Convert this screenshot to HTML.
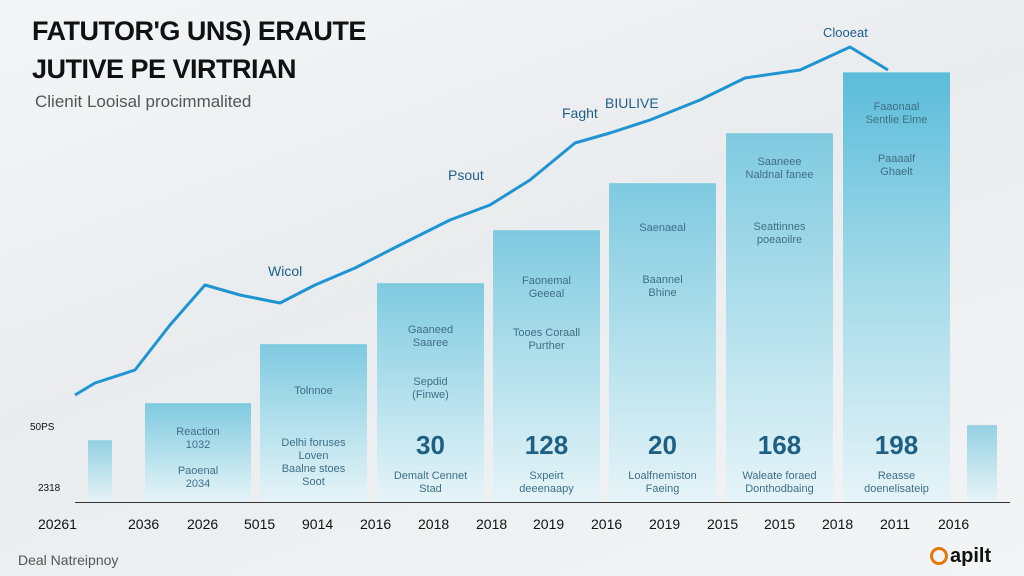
<!DOCTYPE html>
<html><head><meta charset="utf-8"><style>
body{margin:0;width:1024px;height:576px;overflow:hidden;font-family:"Liberation Sans",sans-serif;background:linear-gradient(160deg,#f4f5f6 0%,#e9ecee 45%,#f3f4f5 100%);position:relative}
.t{position:absolute;color:#111}
.bar{position:absolute;bottom:74px;background:linear-gradient(180deg,#7fcae0 0%,#b3e0ec 50%,#e6f4f8 100%);border-top:1px solid #8fd0e3}
.bt{position:absolute;width:100%;text-align:center;color:#3f6f86;font-size:11px;line-height:13px}
.big{position:absolute;width:100%;text-align:center;color:#1e5f84;font-size:26px;font-weight:bold}
.xl{position:absolute;top:516px;font-size:14px;color:#111}
</style></head><body>
<div class="t" style="left:32px;top:16px;font-size:27px;font-weight:bold;letter-spacing:-0.5px">FATUTOR'G UNS) ERAUTE</div>
<div class="t" style="left:32px;top:54px;font-size:27px;font-weight:bold;letter-spacing:-0.5px">JUTIVE PE VIRTRIAN</div>
<div class="t" style="left:35px;top:92px;font-size:17px;color:#555">Clienit Looisal procimmalited</div>

<div class="bar" style="left:88px;width:24px;top:440px;opacity:.8"></div>
<div class="bar" style="left:145px;width:106px;top:403px"><div class="bt" style="top:22px">Reaction<br>1032<br><br>Paoenal<br>2034</div></div>
<div class="bar" style="left:260px;width:107px;top:344px"><div class="bt" style="top:40px">Tolnnoe<br><br><br><br>Delhi foruses<br>Loven<br>Baalne stoes<br>Soot</div></div>
<div class="bar" style="left:377px;width:107px;top:283px"><div class="bt" style="top:40px">Gaaneed<br>Saaree<br><br><br>Sepdid<br>(Finwe)</div><div class="big" style="top:146px">30</div><div class="bt" style="top:186px">Demalt Cennet<br>Stad</div></div>
<div class="bar" style="left:493px;width:107px;top:230px"><div class="bt" style="top:44px">Faonemal<br>Geeeal<br><br><br>Tooes Coraall<br>Purther</div><div class="big" style="top:199px">128</div><div class="bt" style="top:239px">Sxpeirt<br>deeenaapy</div></div>
<div class="bar" style="left:609px;width:107px;top:183px"><div class="bt" style="top:38px">Saenaeal<br><br><br><br>Baannel<br>Bhine</div><div class="big" style="top:246px">20</div><div class="bt" style="top:286px">Loalfnemiston<br>Faeing</div></div>
<div class="bar" style="left:726px;width:107px;top:133px"><div class="bt" style="top:22px">Saaneee<br>Naldnal fanee<br><br><br><br>Seattinnes<br>poeaoilre</div><div class="big" style="top:296px">168</div><div class="bt" style="top:336px">Waleate foraed<br>Donthodbaing</div></div>
<div class="bar" style="left:843px;width:107px;top:72px;background:linear-gradient(180deg,#5bbcda 0%,#a6dbe9 50%,#e6f4f8 100%)"><div class="bt" style="top:28px">Faaonaal<br>Sentlie Elme<br><br><br>Paaaalf<br>Ghaelt</div><div class="big" style="top:357px">198</div><div class="bt" style="top:397px">Reasse<br>doenelisateip</div></div>
<div class="bar" style="left:967px;width:30px;top:425px;opacity:.8"></div>

<div style="position:absolute;left:75px;top:502px;width:935px;height:1px;background:#333"></div>
<div class="t" style="left:30px;top:422px;font-size:10px">50PS</div>
<div class="t" style="left:38px;top:483px;font-size:10px">2318</div>

<svg width="1024" height="576" style="position:absolute;left:0;top:0">
<polyline fill="none" stroke="#1f94d2" stroke-width="3" stroke-linejoin="round" points="75,395 95,383 135,370 170,325 205,285 240,295 280,303 315,285 355,268 400,245 450,220 490,205 530,180 575,143 610,133 650,120 700,100 745,78 800,70 850,47 888,70"/>
<text x="268" y="276" font-size="14" fill="#1f5f8a" font-family="Liberation Sans">Wicol</text>
<text x="448" y="180" font-size="14" fill="#1f5f8a" font-family="Liberation Sans">Psout</text>
<text x="562" y="118" font-size="14" fill="#1f5f8a" font-family="Liberation Sans">Faght</text>
<text x="605" y="108" font-size="14" fill="#1f5f8a" font-family="Liberation Sans">BIULIVE</text>
<text x="823" y="37" font-size="13" fill="#1f5f8a" font-family="Liberation Sans">Clooeat</text>
</svg>

<div class="xl" style="left:38px">20261</div>
<div class="xl" style="left:128px">2036</div>
<div class="xl" style="left:187px">2026</div>
<div class="xl" style="left:244px">5015</div>
<div class="xl" style="left:302px">9014</div>
<div class="xl" style="left:360px">2016</div>
<div class="xl" style="left:418px">2018</div>
<div class="xl" style="left:476px">2018</div>
<div class="xl" style="left:533px">2019</div>
<div class="xl" style="left:591px">2016</div>
<div class="xl" style="left:649px">2019</div>
<div class="xl" style="left:707px">2015</div>
<div class="xl" style="left:764px">2015</div>
<div class="xl" style="left:822px">2018</div>
<div class="xl" style="left:880px">2011</div>
<div class="xl" style="left:938px">2016</div>

<div class="t" style="left:18px;top:552px;font-size:14px;color:#555">Deal Natreipnoy</div>
<div style="position:absolute;left:930px;top:547px;width:18px;height:18px;border-radius:50%;border:3px solid #e07a10;box-sizing:border-box"></div>
<div class="t" style="left:950px;top:545px;font-size:20px;font-weight:bold">apilt</div>
</body></html>
